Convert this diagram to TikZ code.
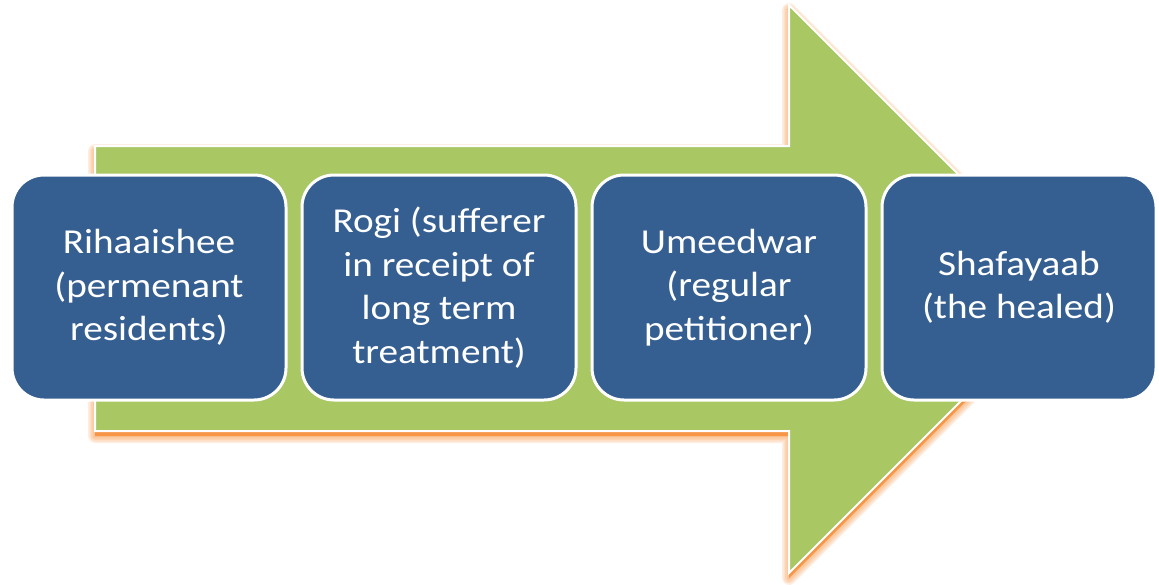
\documentclass[tikz,border=0pt]{standalone}
\usepackage{fontspec}
\setmainfont{Carlito}[FakeStretch=1.12]
\definecolor{stageblue}{HTML}{365F91}
\definecolor{arrowgreen}{HTML}{A9C763}
\definecolor{glow}{HTML}{F79646}
\tikzset{
  bigarrow/.style={insert path={(95,146) -- (789,146) -- (789,5) -- (1073,289)
      -- (789,573) -- (789,431) -- (95,431) -- cycle}},
  stage/.style={draw=white, line width=3pt, fill=stageblue, rounded corners=32pt,
      minimum width=274pt, minimum height=225pt, inner sep=0pt,
      text=white, align=center, font=\fontsize{35}{43.5}\selectfont},
}
\begin{document}
\begin{tikzpicture}[x=1pt, y=-1pt]
  \useasboundingbox (0,0) rectangle (1159,584);
  % soft orange shadow under the arrow
  \begin{scope}[yshift=-5pt]
    \foreach \w in {14,11,8,5,2}
      \draw[glow, opacity=0.16, line width=\w pt, line join=round, bigarrow];
    \fill[glow, bigarrow];
  \end{scope}
  % the arrow
  \filldraw[fill=arrowgreen, draw=white, line width=2pt, bigarrow];
  % stages
  \node[stage] (s1) at (149,287.5) {Rihaaishee\\(permenant\\residents)};
  \node[stage] (s2) at (439,287.5) {Rogi (sufferer\\in receipt of\\long term\\treatment)};
  \node[stage] (s3) at (729,287.5) {Umeedwar\\(regular\\petitioner)};
  \node[stage] (s4) at (1019,287.5) {Shafayaab\\(the healed)};
\end{tikzpicture}
\end{document}
